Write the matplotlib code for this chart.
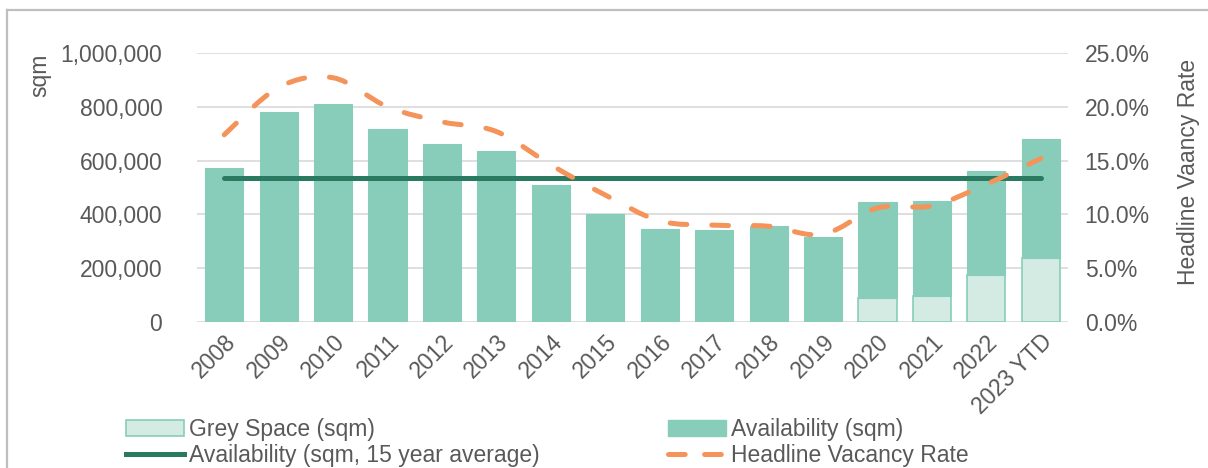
import matplotlib
matplotlib.use("Agg")
import matplotlib.pyplot as plt
import numpy as np
from matplotlib.path import Path
from matplotlib.patches import PathPatch, Patch
from matplotlib.lines import Line2D
from matplotlib.ticker import FuncFormatter, MultipleLocator

plt.rcParams['font.family'] = ['Liberation Sans', 'DejaVu Sans']
plt.rcParams['lines.scale_dashes'] = False

years = ["2008", "2009", "2010", "2011", "2012", "2013", "2014", "2015",
         "2016", "2017", "2018", "2019", "2020", "2021", "2022", "2023 YTD"]
availability = [574000, 782000, 809000, 716000, 663000, 636000, 508000, 401000,
                345000, 342000, 357000, 317000, 445000, 451000, 562000, 680000]
grey_space = [0, 0, 0, 0, 0, 0, 0, 0, 0, 0, 0, 0, 90000, 97000, 175000, 237000]
avg_15yr = 534000
vacancy = [0.174, 0.218, 0.227, 0.200, 0.186, 0.177, 0.146, 0.118,
           0.094, 0.090, 0.089, 0.0815, 0.106, 0.108, 0.128, 0.152]

TEXT = '#595959'
BAR = '#88CDBA'
GREY = '#D3EBE3'
AVG = '#2A7A62'
ORANGE = '#F4935A'
FS = 16.5

W, H = 1208, 468
fig = plt.figure(figsize=(W / 100, H / 100), dpi=100)
ax = fig.add_axes([197 / W, 1 - 322 / H, (1068 - 197) / W, (322 - 53) / H])

x = np.arange(len(years))
rest = [a - g for a, g in zip(availability, grey_space)]
ax.bar(x, grey_space, width=0.7, color=GREY, edgecolor=BAR, linewidth=1.2, zorder=2)
ax.bar(x, rest, bottom=grey_space, width=0.7, color=BAR, edgecolor=BAR, linewidth=0.8, zorder=2)
ax.plot([x[0], x[-1]], [avg_15yr, avg_15yr], color=AVG, lw=3.6,
        solid_capstyle='round', zorder=4)

ax.set_ylim(0, 1000000)
ax.set_xlim(-0.5, len(years) - 0.5)
ax.yaxis.set_major_locator(MultipleLocator(200000))
ax.yaxis.set_major_formatter(FuncFormatter(lambda v, p: f"{int(v):,}"))
ax.grid(axis='y', color='#D9D9D9', lw=1.2, zorder=0)
ax.set_axisbelow(True)
for s in ax.spines.values():
    s.set_visible(False)
ax.tick_params(axis='both', length=0, labelsize=FS, labelcolor=TEXT)
ax.tick_params(axis='y', pad=25)
ax.set_xticks(x)
ax.set_xticklabels(years, rotation=45, ha='right', va='top', rotation_mode='anchor')
ax.tick_params(axis='x', pad=6)

ax2 = ax.twinx()
ax2.set_ylim(0, 0.25)
ax2.yaxis.set_major_locator(MultipleLocator(0.05))
ax2.yaxis.set_major_formatter(FuncFormatter(lambda v, p: f"{v * 100:.1f}%"))
for s in ax2.spines.values():
    s.set_visible(False)
ax2.tick_params(axis='y', length=0, labelsize=FS, labelcolor=TEXT, pad=12)

# smoothed vacancy line (Catmull-Rom -> cubic Bezier in data coordinates)
pts = np.column_stack([x, vacancy]).astype(float)
verts = [tuple(pts[0])]
codes = [Path.MOVETO]
n = len(pts)
for i in range(n - 1):
    p0 = pts[i - 1] if i > 0 else pts[i]
    p1 = pts[i]
    p2 = pts[i + 1]
    p3 = pts[i + 2] if i + 2 < n else pts[i + 1]
    c1 = p1 + (p2 - p0) / 6.0
    c2 = p2 - (p3 - p1) / 6.0
    verts += [tuple(c1), tuple(c2), tuple(p2)]
    codes += [Path.CURVE4] * 3
patch = PathPatch(Path(verts, codes), fill=False, edgecolor=ORANGE, lw=3.6,
                  linestyle=(0, (12.0, 18.0)), capstyle='round', zorder=5)
ax2.add_patch(patch)

fig.text(40 / W, 1 - 75 / H, 'sqm', rotation=90, ha='center', va='center',
         fontsize=FS, color=TEXT)
fig.text(1188 / W, 1 - 172 / H, 'Headline Vaancy Rate', rotation=90, ha='center',
         va='center', fontsize=FS, color=TEXT)

handles = [Patch(facecolor=GREY, edgecolor=BAR, lw=1.2),
           Line2D([0], [0], color=AVG, lw=3.6),
           Patch(facecolor=BAR, edgecolor=BAR),
           Line2D([0], [0], color=ORANGE, lw=3.6, linestyle=(0, (12.0, 14.0)),
                  dash_capstyle='round')]
labels = ['Grey Space (sqm)', 'Availability (sqm, 15 year average)',
          'Availability (sqm)', 'Headline Vacancy Rate']
fig.legend(handles, labels, ncol=2, loc='upper left',
           bbox_to_anchor=(126 / W, 1 - 418 / H), frameon=False, fontsize=FS,
           labelcolor=TEXT, handlelength=2.55, handleheight=0.65, handletextpad=0.2,
           columnspacing=5.6, labelspacing=0.12, borderpad=0, borderaxespad=0)

# outer frame
fig.add_artist(Line2D([7 / W, 7 / W], [0, 1 - 10 / H], color='#BFBFBF', lw=1.6,
                      transform=fig.transFigure))
fig.add_artist(Line2D([7 / W, 1], [1 - 10 / H, 1 - 10 / H], color='#BFBFBF', lw=1.6,
                      transform=fig.transFigure))

fig.savefig('out.png', dpi=100)
